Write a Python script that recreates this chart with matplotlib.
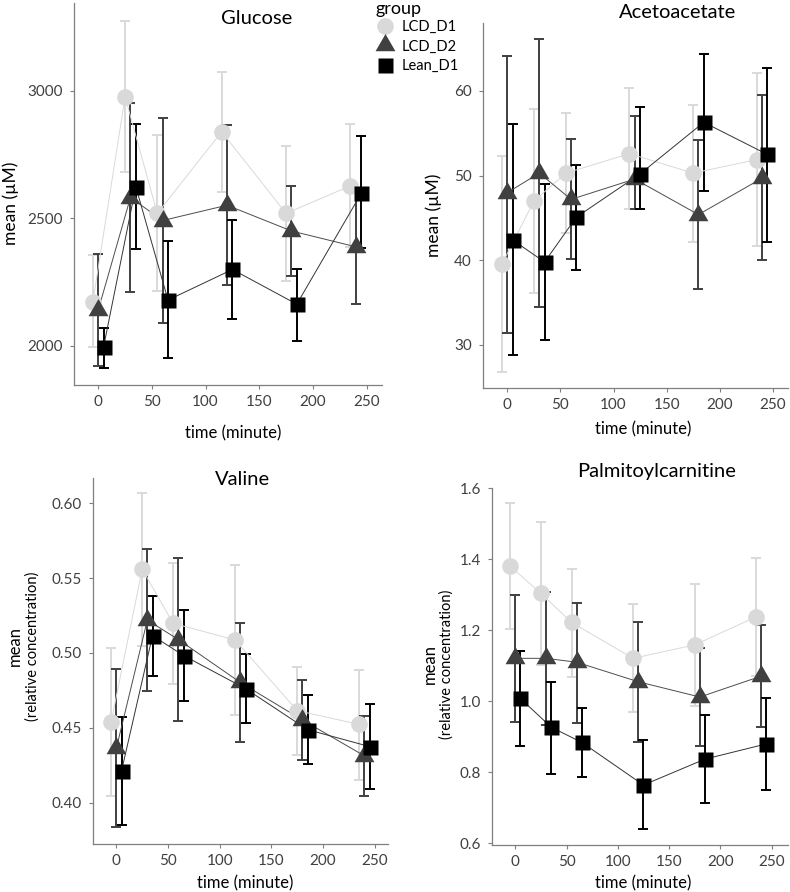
import matplotlib
matplotlib.use("Agg")
import matplotlib.pyplot as plt
from matplotlib.lines import Line2D
from matplotlib.path import Path
import numpy as np

plt.rcParams['font.family'] = ['Lato', 'DejaVu Sans']

# --- 1. Data (rows: LCD_D1, LCD_D2, Lean_D1) ---
TIMES = [0, 30, 60, 120, 180, 240]
GROUPS = ['LCD_D1', 'LCD_D2', 'Lean_D1']

glucose_mean = [[2172, 2976, 2519, 2839, 2519, 2627],
                [2140, 2581, 2491, 2551, 2450, 2388],
                [1996, 2624, 2179, 2299, 2163, 2597]]
glucose_lo = [[1996, 2680, 2216, 2603, 2254, 2386],
              [1922, 2212, 2090, 2238, 2273, 2163],
              [1911, 2378, 1950, 2103, 2017, 2384]]
glucose_hi = [[2356, 3275, 2826, 3073, 2784, 2868],
              [2358, 2950, 2892, 2865, 2626, 2613],
              [2071, 2869, 2412, 2495, 2302, 2822]]

aceto_mean = [[39.6, 47.0, 50.3, 52.6, 50.3, 51.9],
              [48.0, 50.3, 47.2, 49.6, 45.4, 49.7],
              [42.4, 39.8, 45.1, 50.2, 56.3, 52.5]]
aceto_lo = [[26.85, 36.1, 43.2, 46.1, 42.2, 41.7],
            [31.4, 34.5, 40.1, 46.1, 36.6, 40.0],
            [28.8, 30.6, 38.9, 46.1, 48.2, 42.2]]
aceto_hi = [[52.3, 57.9, 57.4, 60.4, 58.3, 62.1],
            [64.1, 66.1, 54.3, 57.1, 54.2, 59.5],
            [56.1, 49.0, 51.3, 58.1, 64.4, 62.75]]

valine_mean = [[0.4541, 0.5559, 0.5198, 0.5087, 0.4615, 0.4523],
               [0.4363, 0.5220, 0.5090, 0.4803, 0.4553, 0.4313],
               [0.4212, 0.5116, 0.4983, 0.4762, 0.4488, 0.4375]]
valine_lo = [[0.4045, 0.5047, 0.4793, 0.4583, 0.4318, 0.4151],
             [0.3835, 0.4748, 0.4546, 0.4408, 0.4285, 0.4047],
             [0.3851, 0.4849, 0.4679, 0.4530, 0.4256, 0.4091]]
valine_hi = [[0.5036, 0.6067, 0.5604, 0.5586, 0.4909, 0.4886],
             [0.4891, 0.5693, 0.5637, 0.5198, 0.4820, 0.4579],
             [0.4570, 0.5383, 0.5287, 0.4991, 0.4719, 0.4657]]

palm_mean = [[1.381, 1.304, 1.222, 1.121, 1.159, 1.238],
             [1.121, 1.121, 1.110, 1.055, 1.012, 1.071],
             [1.008, 0.927, 0.884, 0.764, 0.837, 0.880]]
palm_lo = [[1.204, 1.102, 1.069, 0.971, 0.988, 1.072],
           [0.943, 0.933, 0.940, 0.885, 0.874, 0.927],
           [0.874, 0.794, 0.788, 0.641, 0.713, 0.750]]
palm_hi = [[1.560, 1.506, 1.372, 1.273, 1.330, 1.403],
           [1.300, 1.309, 1.276, 1.222, 1.149, 1.215],
           [1.142, 1.053, 0.982, 0.891, 0.962, 1.010]]

# --- 2. Styles ---
W, H = 790, 892
DODGE = [-5, 0, 5]
COLORS = ['#d9d9d9', '#404040', '#000000']
LINE_COLORS = ['#d9d9d9', '#4d4d4d', '#333333']
# ggplot-like filled triangle, centroid at the data point
TRIANGLE = Path([(0, 1.555), (1.347, -0.778), (-1.347, -0.778), (0, 1.555)],
                [Path.MOVETO, Path.LINETO, Path.LINETO, Path.CLOSEPOLY])
MARKERS = ['o', TRIANGLE, 's']
MSIZES = [12, 16.5, 10.8]
SPINE_COLOR = '#7f7f7f'
TICK_TEXT = '#404040'


def fig_rect(left, top, right, bottom):
    return [left / W, 1 - bottom / H, (right - left) / W, (bottom - top) / H]


def fig_xy(x, y):
    return x / W, 1 - y / H


def draw_panel(ax, means, los, his, ylim, xlim, yticks, yfmt):
    for g in range(3):
        x = np.array(TIMES) + DODGE[g]
        m = np.array(means[g])
        err = [m - np.array(los[g]), np.array(his[g]) - m]
        ax.errorbar(x, m, yerr=err, fmt='none', ecolor=COLORS[g],
                    elinewidth=1.4, capsize=3.6, capthick=1.4, zorder=1 + g * 0.1)
    for g in range(3):
        x = np.array(TIMES) + DODGE[g]
        ax.plot(x, means[g], color=LINE_COLORS[g], lw=0.7, zorder=2 + g * 0.1)
    for g in range(3):
        x = np.array(TIMES) + DODGE[g]
        ax.plot(x, means[g], linestyle='none', marker=MARKERS[g], ms=MSIZES[g],
                color=COLORS[g], mec='none', zorder=3 + g * 0.1)
    ax.set_xlim(*xlim)
    ax.set_ylim(*ylim)
    ax.set_xticks([0, 50, 100, 150, 200, 250])
    ax.set_yticks(yticks)
    ax.set_yticklabels([yfmt.format(v) for v in yticks])
    for s in ['top', 'right']:
        ax.spines[s].set_visible(False)
    for s in ['left', 'bottom']:
        ax.spines[s].set_color(SPINE_COLOR)
        ax.spines[s].set_linewidth(0.9)
    ax.tick_params(axis='both', colors=SPINE_COLOR, labelcolor=TICK_TEXT,
                   labelsize=11, length=3, width=0.8)
    ax.tick_params(axis='y', pad=5)
    ax.tick_params(axis='x', pad=4)
    ax.patch.set_alpha(0)


fig = plt.figure(figsize=(W / 100, H / 100), dpi=100)

ax1 = fig.add_axes(fig_rect(74, 3, 382, 385))
draw_panel(ax1, glucose_mean, glucose_lo, glucose_hi, (1846, 3344), (-22.6, 264.4),
           [2000, 2500, 3000], '{:.0f}')
ax2 = fig.add_axes(fig_rect(483, 23, 788, 388))
draw_panel(ax2, aceto_mean, aceto_lo, aceto_hi, (24.92, 68.03), (-23, 264.4),
           [30, 40, 50, 60], '{:.0f}')
ax3 = fig.add_axes(fig_rect(93, 478, 388, 844))
draw_panel(ax3, valine_mean, valine_lo, valine_hi, (0.3724, 0.6169), (-22.6, 262.9),
           [0.40, 0.45, 0.50, 0.55, 0.60], '{:.2f}')
ax4 = fig.add_axes(fig_rect(492, 488, 788, 845))
draw_panel(ax4, palm_mean, palm_lo, palm_hi, (0.595, 1.601), (-22.7, 266),
           [0.6, 0.8, 1.0, 1.2, 1.4, 1.6], '{:.1f}')

# titles
for label, (x, y) in [('Glucose', (257, 18)), ('Acetoacetate', (678, 13)),
                      ('Valine', (243, 479)), ('Palmitoylcarnitine', (657, 472))]:
    fig.text(*fig_xy(x, y), label, fontsize=14.5, ha='center', va='center')

# axis labels
for (x, y) in [(233, 433), (643, 429), (245, 883), (643, 883)]:
    fig.text(*fig_xy(x, y), 'time (minute)', fontsize=12, ha='center', va='center')
fig.text(*fig_xy(11, 203), 'mean (\u00b5M)', fontsize=12.5, rotation=90, ha='center', va='center')
fig.text(*fig_xy(434, 215), 'mean (\u00b5M)', fontsize=12.5, rotation=90, ha='center', va='center')
for (x1, x2, y) in [(15, 33, 646), (430, 447, 664)]:
    fig.text(*fig_xy(x1, y), 'mean', fontsize=12, rotation=90, ha='center', va='center')
    fig.text(*fig_xy(x2, y), '(relative concentration)', fontsize=10.5, rotation=90,
             ha='center', va='center')

# legend (title drawn separately so its gap to the keys can be matched)
fig.text(*fig_xy(375, 9), 'group', fontsize=13, ha='left', va='center')
handles = [Line2D([], [], linestyle='none', marker=MARKERS[g], ms=MSIZES[g],
                  color=COLORS[g], mec='none', label=GROUPS[g]) for g in range(3)]
fig.legend(handles=handles, loc='upper left',
           bbox_to_anchor=fig_xy(377, 20), frameon=False,
           fontsize=10.5, handlelength=1.1, handletextpad=0.6,
           labelspacing=0.38, borderpad=0, borderaxespad=0)

fig.savefig('out.png', dpi=100)
